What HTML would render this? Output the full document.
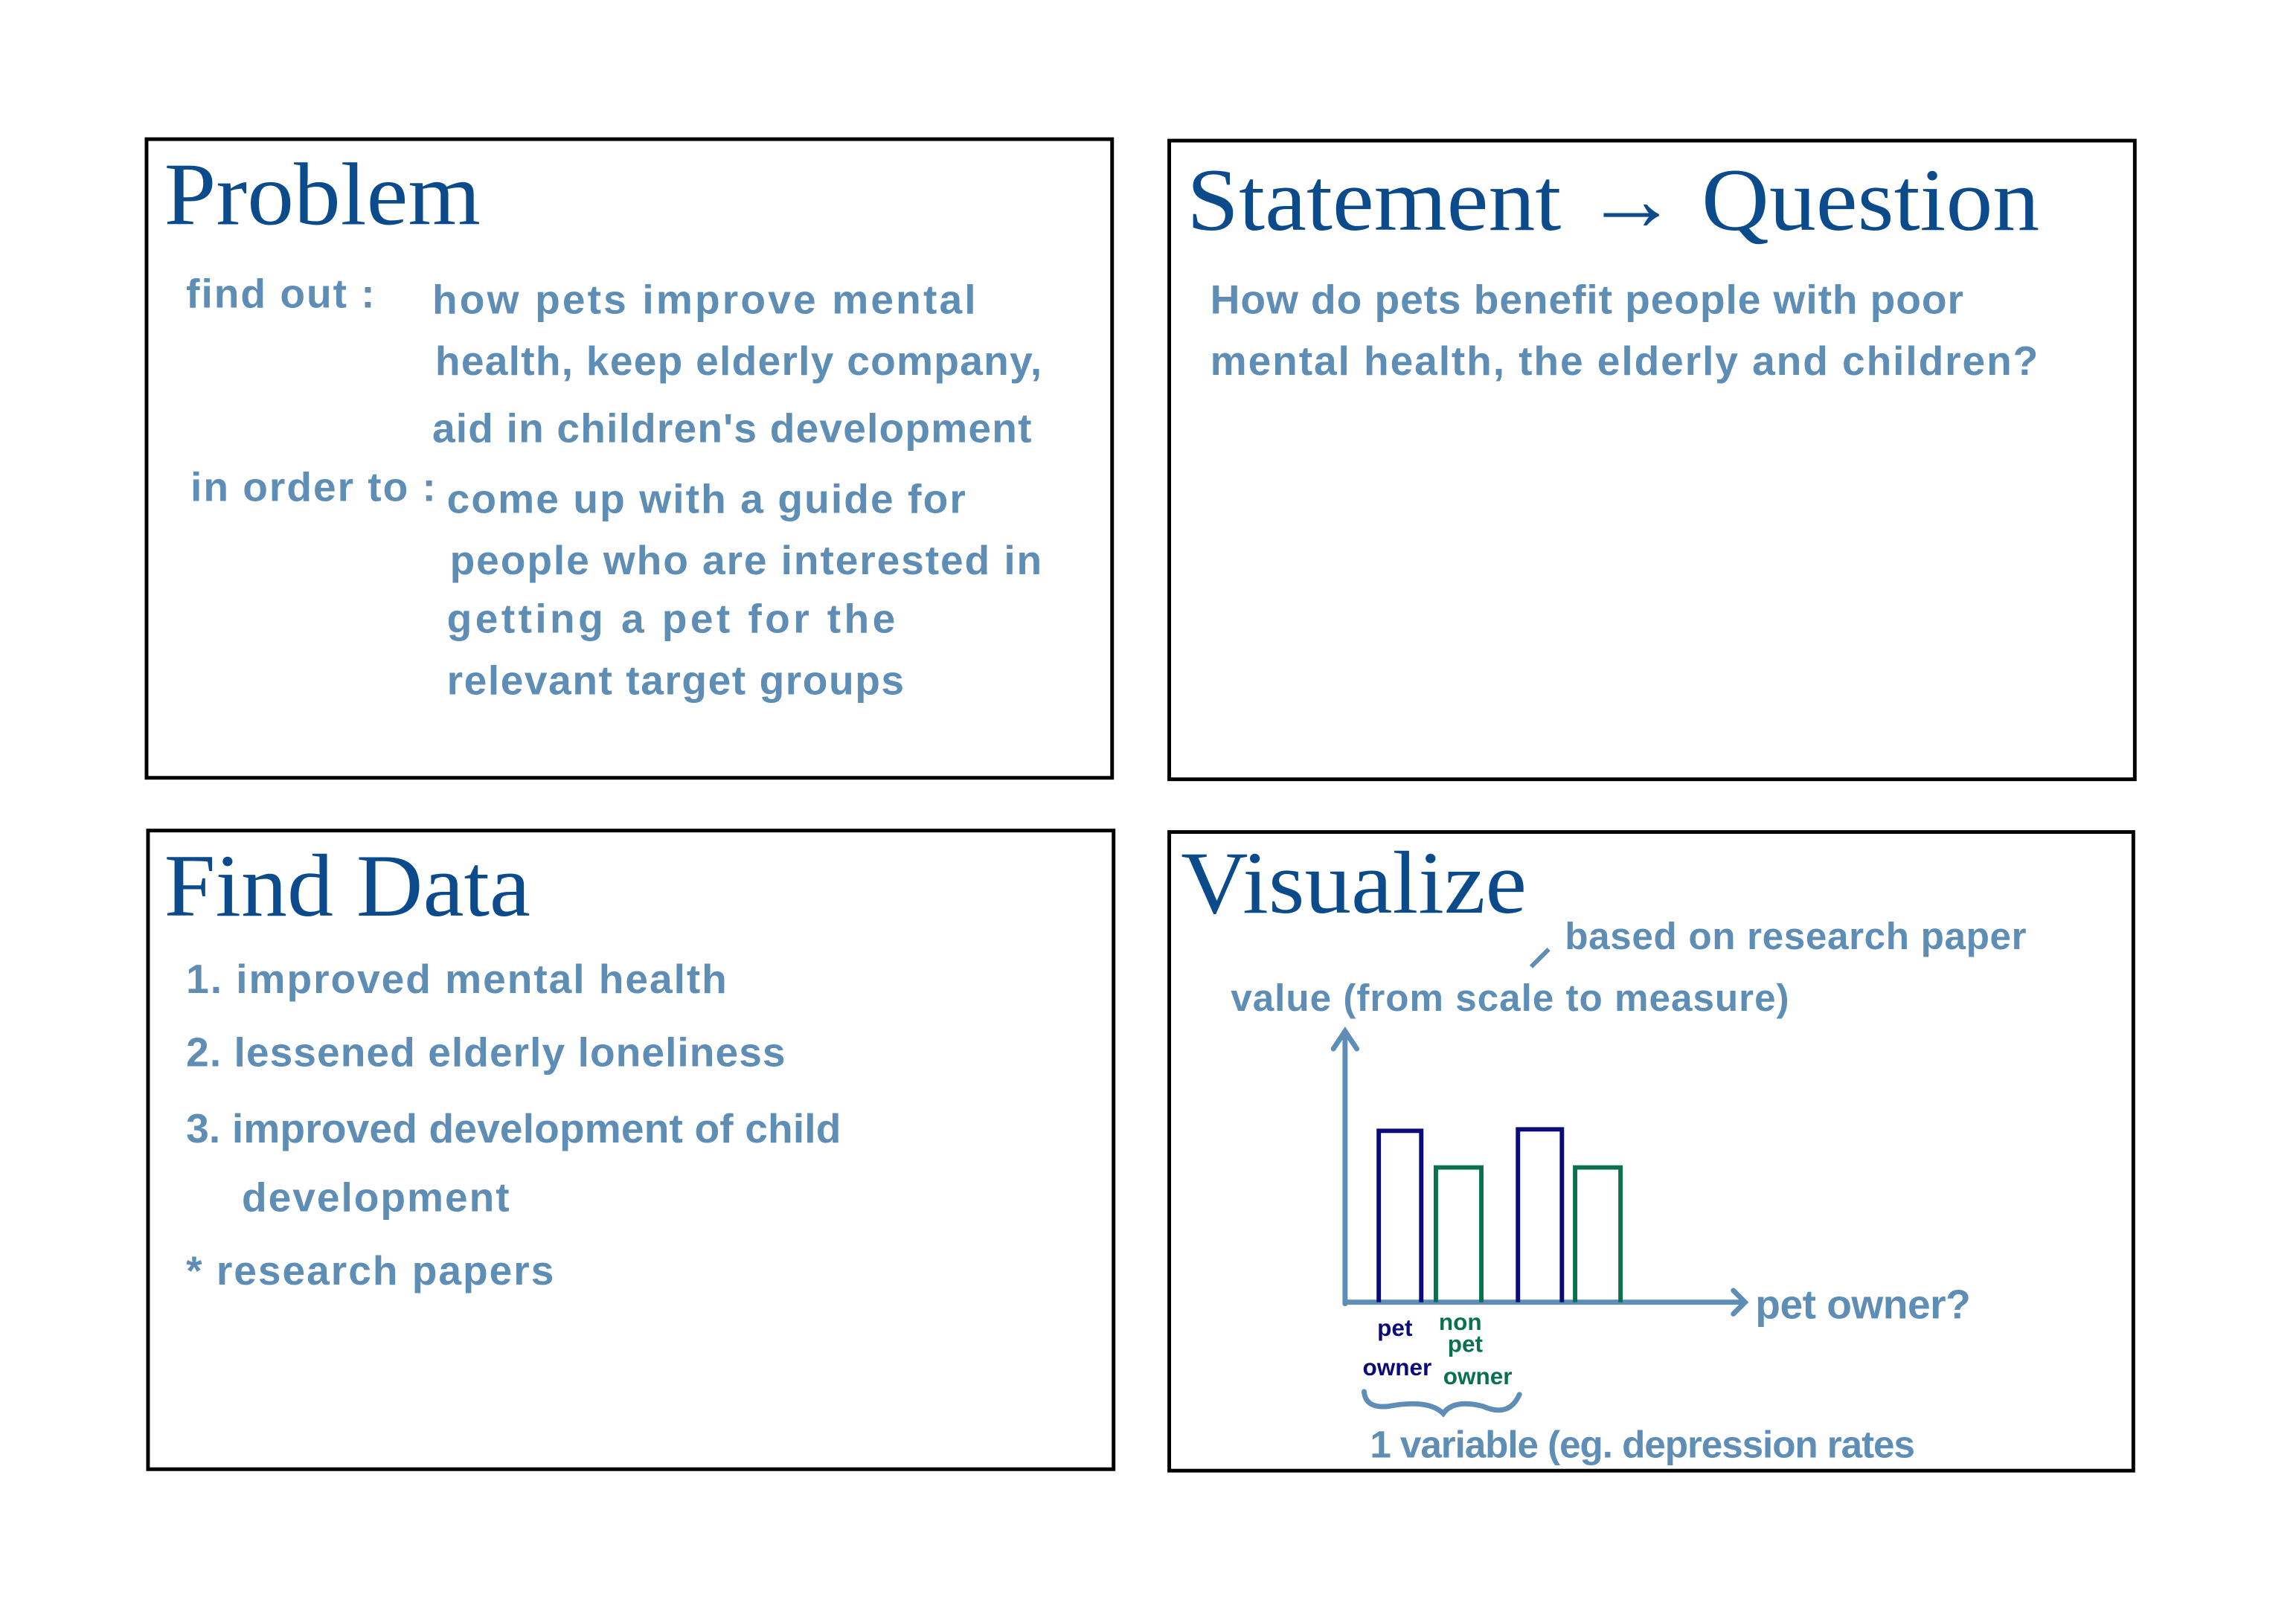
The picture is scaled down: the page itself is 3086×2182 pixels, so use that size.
<!DOCTYPE html>
<html><head><meta charset="utf-8"><style>
html,body{margin:0;padding:0;background:#fff;}
svg{display:block;}
.t{font-family:"Liberation Serif",serif;font-size:61px;fill:#0b4a8b;}
.h{font-family:"Liberation Sans Narrow","Liberation Sans",sans-serif;font-size:28px;fill:#5e8db5;font-weight:bold;letter-spacing:1px;}
.s{font-family:"Liberation Sans Narrow","Liberation Sans",sans-serif;font-size:16px;font-weight:bold;}
</style></head><body>
<svg width="3086" height="2182" viewBox="0 0 1567 1108" xmlns="http://www.w3.org/2000/svg">
<g fill="none" stroke="#000" stroke-width="2.5">
<rect x="100" y="95" width="659" height="436"/>
<rect x="798" y="96" width="659" height="436"/>
<rect x="101" y="567" width="659" height="436"/>
<rect x="798" y="568" width="658" height="436"/>
</g>
<text class="t" x="112" y="153" textLength="216" lengthAdjust="spacingAndGlyphs">Problem</text>
<text class="t" x="810" y="157" textLength="582" lengthAdjust="spacingAndGlyphs">Statement → Question</text>
<text class="t" x="112" y="625" textLength="250" lengthAdjust="spacingAndGlyphs">Find Data</text>
<text class="t" x="806" y="623" textLength="236" lengthAdjust="spacingAndGlyphs">Visualize</text>

<text class="h" x="127" y="210">find out :</text>
<text class="h" x="295" y="214" textLength="372">how pets improve mental</text>
<text class="h" x="297" y="256" textLength="415">health, keep elderly company,</text>
<text class="h" x="295" y="302" textLength="410">aid in children's development</text>
<text class="h" x="130" y="342">in order to :</text>
<text class="h" x="305" y="350" textLength="355">come up with a guide for</text>
<text class="h" x="307" y="392" textLength="405">people who are interested in</text>
<text class="h" x="305" y="432" textLength="307">getting a pet for the</text>
<text class="h" x="305" y="474" textLength="313">relevant target groups</text>

<text class="h" x="826" y="214" textLength="515">How do pets benefit people with poor</text>
<text class="h" x="826" y="256" textLength="566">mental health, the elderly and children?</text>

<text class="h" x="127" y="678" textLength="370">1. improved mental health</text>
<text class="h" x="127" y="728" textLength="410">2. lessened elderly loneliness</text>
<text class="h" x="127" y="780" textLength="448">3. improved development of child</text>
<text class="h" x="165" y="827">development</text>
<text class="h" x="127" y="877">* research papers</text>

<text class="h" x="1068" y="648" style="font-size:26px" textLength="316">based on research paper</text>
<line x1="1045" y1="660" x2="1057" y2="648" stroke="#5e8db5" stroke-width="3"/>
<text class="h" x="840" y="690" style="font-size:26px" textLength="382">value (from scale to measure)</text>
<g stroke="#5e8db5" stroke-width="3.5" fill="none" stroke-linecap="round">
<line x1="918" y1="705" x2="918" y2="890"/>
<polyline points="910,716 918,704 926,716"/>
<line x1="918" y1="889" x2="1190" y2="889"/>
<polyline points="1183,881 1191,889 1183,897"/>
<path d="M931 950 Q932 962 948 960 Q975 955 985 965 Q992 955 1012 960 Q1030 968 1037 952"/>
</g>
<g fill="none" stroke-width="3">
<polyline stroke="#0a0a7a" points="941,889 941,772 970,772 970,889"/>
<polyline stroke="#0a7050" points="980,889 980,797 1011,797 1011,889"/>
<polyline stroke="#0a0a7a" points="1036,889 1036,771 1066,771 1066,889"/>
<polyline stroke="#0a7050" points="1075,889 1075,797 1106,797 1106,889"/>
</g>
<text class="h" x="1198" y="900" style="font-size:28px" textLength="148">pet owner?</text>
<text class="s" x="940" y="912" fill="#0a0a7a">pet</text>
<text class="s" x="930" y="939" fill="#0a0a7a">owner</text>
<text class="s" x="982" y="908" fill="#0a7050">non</text>
<text class="s" x="988" y="923" fill="#0a7050">pet</text>
<text class="s" x="985" y="945" fill="#0a7050">owner</text>
<text class="h" x="935" y="995" style="font-size:26px" textLength="373">1 variable (eg. depression rates</text>
</svg>
</body></html>
